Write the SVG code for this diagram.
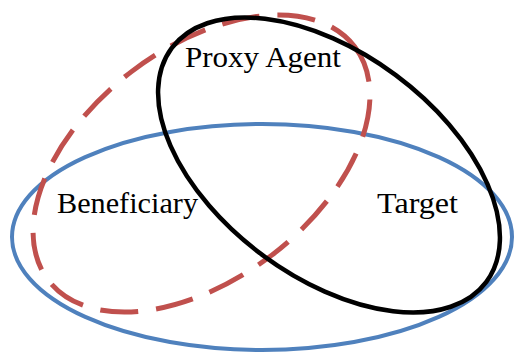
<svg xmlns="http://www.w3.org/2000/svg" width="515" height="356" viewBox="0 0 515 356">
<style>
.set{fill:none}
.blue{stroke:#4F81BD;stroke-width:4}
.black{stroke:#000;stroke-width:4.5}
.red{stroke:#C0504D;stroke-width:5;stroke-dasharray:38 18}
.lbl{font-family:"Liberation Serif","Times New Roman",serif;font-size:29px;fill:#000}
</style>
<rect width="515" height="356" fill="#fff"/>
<g id="target">
<ellipse class="set blue" cx="262" cy="237" rx="250" ry="113"/>
<text class="lbl" x="377" y="213" textLength="81" lengthAdjust="spacingAndGlyphs">Target</text>
</g>
<g id="beneficiary">
<ellipse class="set red" cx="201.5" cy="163.5" rx="192.6" ry="115.5" transform="rotate(-37.3 201.5 163.5)"/>
<text class="lbl" x="57" y="213" textLength="141" lengthAdjust="spacingAndGlyphs">Beneficiary</text>
</g>
<g id="proxy-agent">
<ellipse class="set black" cx="329" cy="165" rx="196" ry="112" transform="rotate(36.6 329 165)"/>
<text class="lbl" x="185" y="67" textLength="156" lengthAdjust="spacingAndGlyphs">Proxy Agent</text>
</g>
<g id="connectors"></g>
</svg>
